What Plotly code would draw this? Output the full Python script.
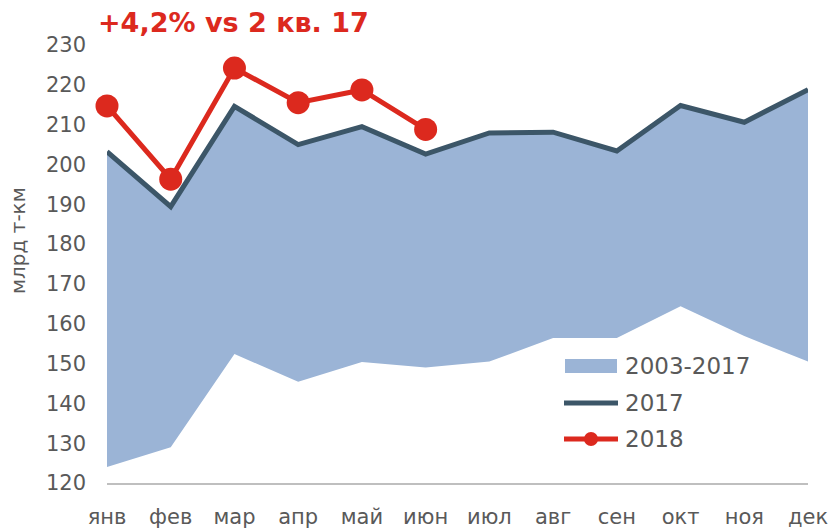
import plotly.graph_objects as go

months = ["янв", "фев", "мар", "апр", "май", "июн", "июл", "авг", "сен", "окт", "ноя", "дек"]
band_low = [124.0, 129.0, 152.4, 145.4, 150.4, 149.0, 150.5, 156.4, 156.4, 164.4, 156.9, 150.5]
band_high = [203.2, 189.4, 214.6, 205.0, 209.5, 202.6, 207.9, 208.1, 203.4, 214.8, 210.6, 218.8]
y2017 = [203.2, 189.4, 214.6, 205.0, 209.5, 202.6, 207.9, 208.1, 203.4, 214.8, 210.6, 218.8]
y2018 = [214.7, 196.3, 224.2, 215.5, 218.7, 208.8]
y_ticks = list(range(120, 231, 10))
legend_names = ["2003-2017", "2017", "2018"]

BAND = "#9BB4D6"
DARK = "#3C5668"
RED = "#DC291E"
FONT = "DejaVu Sans"
GRAY = "#595959"

W, H = 833, 530
L, R, T, B = 107, 25, 45, 47
PW, PH = W - L - R, H - T - B


def px(xp):
    return (xp - L) / PW


def py(yp):
    return (H - B - yp) / PH


xi = list(range(len(months)))

fig = go.Figure()
fig.add_trace(go.Scatter(x=xi, y=band_low, mode="lines", line=dict(width=0, color=BAND),
                         showlegend=False, hoverinfo="skip"))
fig.add_trace(go.Scatter(x=xi, y=band_high, mode="lines", line=dict(width=0, color=BAND),
                         fill="tonexty", fillcolor=BAND, name=legend_names[0], showlegend=False))
fig.add_trace(go.Scatter(x=xi, y=y2017, mode="lines", line=dict(width=5, color=DARK),
                         name=legend_names[1], cliponaxis=False, showlegend=False))
fig.add_trace(go.Scatter(x=xi[:len(y2018)], y=y2018, mode="lines+markers",
                         line=dict(width=5, color=RED),
                         marker=dict(size=23, color=RED),
                         name=legend_names[2], cliponaxis=False, showlegend=False))

# custom legend
shapes = []
annotations = []
rows_y = [366, 403, 439]
sx0, sx1, tx = 565, 617, 623
shapes.append(dict(type="rect", xref="paper", yref="paper", x0=px(sx0), x1=px(sx1),
                   y0=py(rows_y[0] + 7), y1=py(rows_y[0] - 7), fillcolor=BAND, line=dict(width=0)))
shapes.append(dict(type="line", xref="paper", yref="paper", x0=px(sx0 - 1), x1=px(sx1 + 1),
                   y0=py(rows_y[1]), y1=py(rows_y[1]), line=dict(color=DARK, width=5)))
shapes.append(dict(type="line", xref="paper", yref="paper", x0=px(sx0 - 1), x1=px(sx1 + 1),
                   y0=py(rows_y[2]), y1=py(rows_y[2]), line=dict(color=RED, width=5)))
cx = (sx0 + sx1) / 2
shapes.append(dict(type="circle", xref="paper", yref="paper", x0=px(cx - 7), x1=px(cx + 7),
                   y0=py(rows_y[2] + 7), y1=py(rows_y[2] - 7), fillcolor=RED, line=dict(width=0)))
for name, ry in zip(legend_names, rows_y):
    annotations.append(dict(text=name, xref="paper", yref="paper", x=px(tx), y=py(ry),
                            xanchor="left", yanchor="middle", showarrow=False,
                            font=dict(size=23, color=GRAY, family=FONT)))

annotations.append(dict(text="<b>+4,2% vs 2 кв. 17</b>", xref="paper", yref="paper",
                        x=px(96), y=py(23), xanchor="left", yanchor="middle", showarrow=False,
                        font=dict(size=27, color=RED, family=FONT)))
annotations.append(dict(text="млрд т-км", xref="paper", yref="paper", x=px(18), y=py(241),
                        xanchor="center", yanchor="middle", textangle=-90, showarrow=False,
                        font=dict(size=20, color=GRAY, family=FONT)))

fig.update_layout(
    width=W, height=H,
    margin=dict(l=L, r=R, t=T, b=B, autoexpand=False),
    paper_bgcolor="white", plot_bgcolor="white",
    font=dict(family=FONT, color=GRAY, size=20),
    showlegend=False,
    shapes=shapes,
    annotations=annotations,
    xaxis=dict(range=[0, 11], tickmode="array", tickvals=xi, ticktext=months, showgrid=False,
               zeroline=False, showline=True, linecolor="#BFBFBF", linewidth=2,
               ticks="", tickfont=dict(size=21), ticklabelstandoff=14, automargin=False),
    yaxis=dict(range=[120, 230], tickmode="array", tickvals=y_ticks, showgrid=False, zeroline=False,
               showline=False, ticks="", tickfont=dict(size=21), ticklabelstandoff=20,
               automargin=False),
)

fig.write_html(
    "out.html",
    config={"displayModeBar": False},
    post_script="document.body.style.margin='0';document.body.style.overflow='hidden';",
)
